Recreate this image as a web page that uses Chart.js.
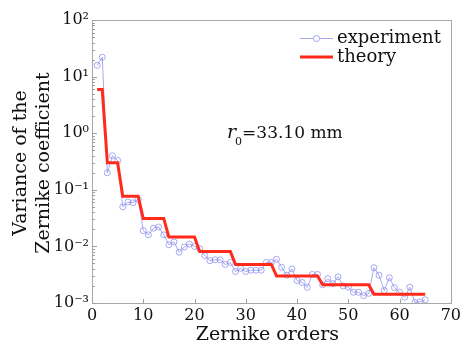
<!DOCTYPE html>
<html>
<head>
<meta charset="utf-8">
<script src="https://cdn.jsdelivr.net/npm/chart.js@4.4.1/dist/chart.umd.min.js"></script>
<style>
html,body{margin:0;padding:0;background:#fff;}
#wrap{width:464px;height:348px;}
</style>
</head>
<body>
<div id="wrap"><canvas id="c" width="464" height="348"></canvas></div>
<script>
// ---- data ----
const zernikeOrders = [1,2,3,4,5,6,7,8,9,10,11,12,13,14,15,16,17,18,19,20,21,22,23,24,25,26,27,28,29,30,31,32,33,34,35,36,37,38,39,40,41,42,43,44,45,46,47,48,49,50,51,52,53,54,55,56,57,58,59,60,61,62,63,64,65];
const experimentValues = [15.8,22,0.20,0.40,0.33,0.050,0.061,0.059,0.068,0.019,0.016,0.021,0.022,0.016,0.0107,0.012,0.0079,0.0098,0.011,0.010,0.0091,0.0069,0.0056,0.0058,0.0058,0.0048,0.0052,0.0036,0.0041,0.0036,0.0038,0.0038,0.0038,0.0052,0.0052,0.0059,0.0043,0.0031,0.0040,0.0025,0.0023,0.0019,0.0032,0.0032,0.0021,0.0027,0.0022,0.0029,0.0020,0.0019,0.00155,0.00155,0.00135,0.00148,0.0042,0.0031,0.00166,0.0028,0.00187,0.00155,0.00126,0.0019,0.00102,0.00105,0.00114];
const theoryValues = [5.9,5.9,0.30,0.30,0.30,0.077,0.077,0.077,0.077,0.031,0.031,0.031,0.031,0.031,0.0146,0.0146,0.0146,0.0146,0.0146,0.0146,0.0081,0.0081,0.0081,0.0081,0.0081,0.0081,0.0081,0.0048,0.0048,0.0048,0.0048,0.0048,0.0048,0.0048,0.0048,0.0030,0.0030,0.0030,0.0030,0.0030,0.0030,0.0030,0.0030,0.0030,0.0021,0.0021,0.0021,0.0021,0.0021,0.0021,0.0021,0.0021,0.0021,0.0021,0.00143,0.00143,0.00143,0.00143,0.00143,0.00143,0.00143,0.00143,0.00143,0.00143,0.00143];
const xTicks = [0,10,20,30,40,50,60,70];
const yTicks = [0.001,0.01,0.1,1,10,100];
const yTickLabels = ['10\u207B\u00B3','10\u207B\u00B2','10\u207B\u00B9','10\u2070','10\u00B9','10\u00B2'];
const seriesNames = ['experiment','theory'];
const xTitle = 'Zernike orders';
const yTitle = ['Variance of the','Zernike coefficient'];

const SERIF = '"DejaVu Serif", serif';
const expColor = 'rgba(140,140,235,0.75)';
const thColor = '#ff2a1a';

const decorPlugin = {
  id: 'decor',
  afterDraw(chart) {
    const ctx = chart.ctx, a = chart.chartArea;
    const xs = chart.scales.x, ys = chart.scales.y;
    ctx.save();
    // frame
    ctx.strokeStyle = '#a8a8a8';
    ctx.lineWidth = 1;
    ctx.strokeRect(Math.round(a.left)+0.5, Math.round(a.top)+0.5, Math.round(a.right-a.left), Math.round(a.bottom-a.top));
    // y ticks (major + minor), inward
    ctx.strokeStyle = '#a0a0a0';
    ctx.beginPath();
    for (let d = 0; d < yTicks.length; d++) {
      const base = yTicks[d];
      for (let m = 1; m <= 9; m++) {
        const v = base * m;
        if (v > yTicks[yTicks.length-1]) break;
        const py = Math.round(ys.getPixelForValue(v)) + 0.5;
        const len = m === 1 ? 5 : 3;
        ctx.moveTo(a.left, py); ctx.lineTo(a.left + len, py);
      }
    }
    // x ticks inward
    xTicks.forEach(t => {
      const px = Math.round(xs.getPixelForValue(t)) + 0.5;
      ctx.moveTo(px, a.bottom); ctx.lineTo(px, a.bottom - 4);
    });
    ctx.stroke();

    // axis titles
    ctx.fillStyle = '#111';
    ctx.font = '19px ' + SERIF;
    ctx.textAlign = 'center';
    ctx.textBaseline = 'middle';
    ctx.fillText(xTitle, (a.left + a.right)/2 - 4, 335);
    ctx.save();
    ctx.translate(21, 163);
    ctx.rotate(-Math.PI/2);
    ctx.fillText(yTitle[0], 0, 0);
    ctx.fillText(yTitle[1], 0, 23);
    ctx.restore();

    // legend
    const lx0 = 300, lx1 = 333;
    const ly = [38, 57];
    ctx.font = '18px ' + SERIF;
    ctx.textAlign = 'left';
    ctx.textBaseline = 'middle';
    // experiment
    ctx.strokeStyle = expColor; ctx.lineWidth = 1;
    ctx.beginPath(); ctx.moveTo(lx0, ly[0]+0.5); ctx.lineTo(lx1, ly[0]+0.5); ctx.stroke();
    ctx.beginPath(); ctx.arc((lx0+lx1)/2, ly[0]+0.5, 3, 0, Math.PI*2); ctx.fillStyle='#fff'; ctx.fill(); ctx.stroke();
    ctx.fillStyle = '#111';
    ctx.fillText(seriesNames[0], 337, ly[0]);
    // theory
    ctx.strokeStyle = thColor; ctx.lineWidth = 3;
    ctx.beginPath(); ctx.moveTo(lx0, ly[1]); ctx.lineTo(lx1, ly[1]); ctx.stroke();
    ctx.fillText(seriesNames[1], 337, ly[1]);

    // annotation r0 = 33.10 mm
    ctx.textBaseline = 'alphabetic';
    let x = 227, y = 138;
    ctx.font = 'italic 19px ' + SERIF;
    ctx.fillText('r', x, y);
    x += ctx.measureText('r').width - 1;
    ctx.font = '11px ' + SERIF;
    ctx.fillText('0', x, y + 7);
    x += ctx.measureText('0').width;
    ctx.font = '17px ' + SERIF;
    ctx.fillText('=33.10 mm', x, y);
    ctx.restore();
  }
};

new Chart(document.getElementById('c'), {
  type: 'line',
  data: {
    datasets: [
      {
        label: seriesNames[0],
        data: zernikeOrders.map((o, i) => ({x: o, y: experimentValues[i]})),
        borderColor: expColor,
        borderWidth: 1,
        pointRadius: 3,
        pointBorderWidth: 1,
        pointBackgroundColor: 'rgba(255,255,255,0)',
        pointBorderColor: expColor,
        tension: 0,
        order: 2
      },
      {
        label: seriesNames[1],
        data: zernikeOrders.map((o, i) => ({x: o, y: theoryValues[i]})),
        borderColor: thColor,
        borderWidth: 3,
        pointRadius: 0,
        tension: 0,
        order: 1
      }
    ]
  },
  options: {
    responsive: false,
    animation: false,
    devicePixelRatio: 1,
    layout: { padding: { left: 0, right: 11, top: 20, bottom: 0 } },
    plugins: { legend: { display: false }, tooltip: { enabled: false } },
    scales: {
      x: {
        type: 'linear', min: 0, max: 70,
        afterBuildTicks(s) { s.ticks = xTicks.map(v => ({value: v})); },
        afterFit(s) { s.height = 45; },
        grid: { display: false, drawTicks: false },
        border: { display: false },
        ticks: { color: '#111', font: { family: SERIF, size: 16 }, padding: 3, maxRotation: 0, autoSkip: false,
                 callback: v => String(v) }
      },
      y: {
        type: 'logarithmic', min: 0.001, max: 100,
        afterBuildTicks(s) { s.ticks = yTicks.map(v => ({value: v})); },
        afterFit(s) { s.width = 92; },
        grid: { display: false, drawTicks: false },
        border: { display: false },
        ticks: { color: '#111', font: { family: SERIF, size: 16 }, padding: 3, autoSkip: false,
                 callback: (v) => { const i = yTicks.findIndex(t => Math.abs(t - v) / t < 1e-6); return i >= 0 ? yTickLabels[i] : ''; } }
      }
    }
  },
  plugins: [decorPlugin]
});
</script>
</body>
</html>
